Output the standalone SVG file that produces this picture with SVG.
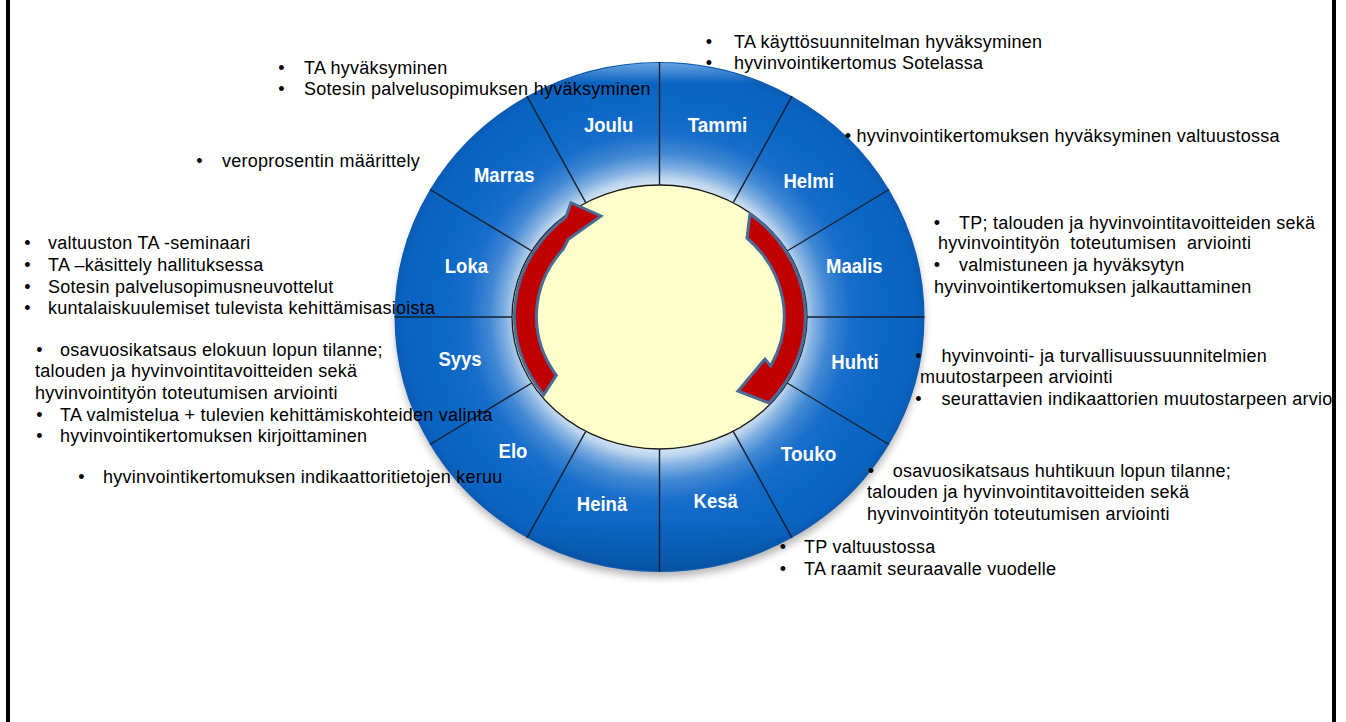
<svg xmlns="http://www.w3.org/2000/svg" width="1346" height="722" viewBox="0 0 1346 722">
<defs>
<style>
.t{font-family:"Liberation Sans",Arial,sans-serif;font-size:18px;letter-spacing:0.25px;fill:#000}
.b{font-family:"Liberation Sans",Arial,sans-serif;font-size:18px;fill:#000;text-anchor:middle}
.m{font-family:"Liberation Sans",Arial,sans-serif;font-size:20.5px;font-weight:bold;fill:#fff;text-anchor:middle}
.sec{fill:url(#ring)}
.div{stroke:#15202e;stroke-width:1.4;fill:none}
.arr{fill:#c00000;stroke:#4a6b95;stroke-width:3;stroke-linejoin:miter}
</style>
<radialGradient id="ring" gradientUnits="userSpaceOnUse" cx="0" cy="0" r="1" gradientTransform="matrix(265 0 0 255 659.5 317)">
<stop offset="0.5" stop-color="#e6eff9"/>
<stop offset="0.545" stop-color="#bcd5ee"/>
<stop offset="0.58" stop-color="#86b3e2"/>
<stop offset="0.64" stop-color="#4389d4"/>
<stop offset="0.72" stop-color="#196ecb"/>
<stop offset="0.82" stop-color="#0c67c5"/>
<stop offset="0.97" stop-color="#0a63c0"/>
<stop offset="1" stop-color="#0a5ab3"/>
</radialGradient>
<linearGradient id="hl" x1="0" y1="0" x2="0" y2="1">
<stop offset="0" stop-color="#7fb6ec" stop-opacity="0.8"/>
<stop offset="0.04" stop-color="#7fb6ec" stop-opacity="0"/>
<stop offset="0.9" stop-color="#04356e" stop-opacity="0"/>
<stop offset="1" stop-color="#04356e" stop-opacity="0.3"/>
</linearGradient>
<filter id="blur" x="-10%" y="-10%" width="120%" height="120%"><feGaussianBlur stdDeviation="4"/></filter>
</defs>
<rect width="1346" height="722" fill="#fff"/>
<rect x="6" y="0" width="4" height="722" fill="#000"/>
<rect x="1332" y="0" width="4" height="722" fill="#000"/>

<ellipse cx="660" cy="323" rx="264" ry="254" fill="#000" opacity="0.3" filter="url(#blur)"/>

<g id="month-tammi"><path class="sec" d="M659.5,62 A265 255 0 0 1 792,96.2 L733.25,202.7 A147.5 132 0 0 0 659.5,185 Z"/><text class="m" x="717.5" y="132" textLength="59.6" lengthAdjust="spacingAndGlyphs">Tammi</text></g>
<g id="month-helmi"><path class="sec" d="M792,96.2 A265 255 0 0 1 889,189.5 L787.2,251 A147.5 132 0 0 0 733.25,202.7 Z"/><text class="m" x="808.6" y="188" textLength="50.4" lengthAdjust="spacingAndGlyphs">Helmi</text></g>
<g id="month-maalis"><path class="sec" d="M889,189.5 A265 255 0 0 1 924.5,317 L807,317 A147.5 132 0 0 0 787.2,251 Z"/><text class="m" x="854.3" y="273" textLength="56.6" lengthAdjust="spacingAndGlyphs">Maalis</text></g>
<g id="month-huhti"><path class="sec" d="M924.5,317 A265 255 0 0 1 889,444.5 L787.2,383 A147.5 132 0 0 0 807,317 Z"/><text class="m" x="855" y="369" textLength="47.3" lengthAdjust="spacingAndGlyphs">Huhti</text></g>
<g id="month-touko"><path class="sec" d="M889,444.5 A265 255 0 0 1 792,537.8 L733.25,431.3 A147.5 132 0 0 0 787.2,383 Z"/><text class="m" x="808.6" y="460.5" textLength="55.5" lengthAdjust="spacingAndGlyphs">Touko</text></g>
<g id="month-kesa"><path class="sec" d="M792,537.8 A265 255 0 0 1 659.5,572 L659.5,449 A147.5 132 0 0 0 733.25,431.3 Z"/><text class="m" x="715.7" y="508" textLength="44.2" lengthAdjust="spacingAndGlyphs">Kesä</text></g>
<g id="month-heina"><path class="sec" d="M659.5,572 A265 255 0 0 1 527,537.8 L585.75,431.3 A147.5 132 0 0 0 659.5,449 Z"/><text class="m" x="602" y="510.5" textLength="50.4" lengthAdjust="spacingAndGlyphs">Heinä</text></g>
<g id="month-elo"><path class="sec" d="M527,537.8 A265 255 0 0 1 430,444.5 L531.8,383 A147.5 132 0 0 0 585.75,431.3 Z"/><text class="m" x="513" y="458" textLength="28.8" lengthAdjust="spacingAndGlyphs">Elo</text></g>
<g id="month-syys"><path class="sec" d="M430,444.5 A265 255 0 0 1 394.5,317 L512,317 A147.5 132 0 0 0 531.8,383 Z"/><text class="m" x="460" y="366" textLength="43.2" lengthAdjust="spacingAndGlyphs">Syys</text></g>
<g id="month-loka"><path class="sec" d="M394.5,317 A265 255 0 0 1 430,189.5 L531.8,251 A147.5 132 0 0 0 512,317 Z"/><text class="m" x="466.4" y="273" textLength="43.2" lengthAdjust="spacingAndGlyphs">Loka</text></g>
<g id="month-marras"><path class="sec" d="M430,189.5 A265 255 0 0 1 527,96.2 L585.75,202.7 A147.5 132 0 0 0 531.8,251 Z"/><text class="m" x="504.3" y="181.5" textLength="60.7" lengthAdjust="spacingAndGlyphs">Marras</text></g>
<g id="month-joulu"><path class="sec" d="M527,96.2 A265 255 0 0 1 659.5,62 L659.5,185 A147.5 132 0 0 0 585.75,202.7 Z"/><text class="m" x="608.6" y="132" textLength="49.3" lengthAdjust="spacingAndGlyphs">Joulu</text></g>

<ellipse cx="659.5" cy="317" rx="264" ry="254" fill="url(#hl)"/>

<g id="dividers" class="div">
<line x1="659.5" y1="62" x2="659.5" y2="185"/>
<line x1="792" y1="96.2" x2="733.25" y2="202.7"/>
<line x1="889" y1="189.5" x2="787.2" y2="251"/>
<line x1="924.5" y1="317" x2="807" y2="317"/>
<line x1="889" y1="444.5" x2="787.2" y2="383"/>
<line x1="792" y1="537.8" x2="733.25" y2="431.3"/>
<line x1="659.5" y1="572" x2="659.5" y2="449"/>
<line x1="527" y1="537.8" x2="585.75" y2="431.3"/>
<line x1="430" y1="444.5" x2="531.8" y2="383"/>
<line x1="394.5" y1="317" x2="512" y2="317"/>
<line x1="430" y1="189.5" x2="531.8" y2="251"/>
<line x1="527" y1="96.2" x2="585.75" y2="202.7"/>
</g>

<g id="center">
<ellipse cx="659.5" cy="317" rx="147.5" ry="132" fill="#ffffcc" stroke="#1a1a1a" stroke-width="1.3"/>
</g>

<g id="connectors">
<path class="arr" d="M543.7,394.7 A145 130 0 0 1 566,217 L571,202.7 L601,216 L568.3,239.3 L563.3,249 A123 108 0 0 0 556.3,375.3 Z"/>
<path class="arr" d="M750,214 A146.5 131 0 0 1 769,403 L738,391 L765,359 L770.6,366 A124.5 109.5 0 0 0 747,238 Z"/>
</g>

<g id="notes-joulu">
<text class="b" x="281.5" y="73.5">•</text><text class="t" x="304" y="73.5">TA hyväksyminen</text>
<text class="b" x="281.5" y="94.5">•</text><text class="t" x="304" y="94.5">Sotesin palvelusopimuksen hyväksyminen</text>
</g>
<g id="notes-marras">
<text class="b" x="199.5" y="166.5">•</text><text class="t" x="222" y="166.5">veroprosentin määrittely</text>
</g>
<g id="notes-loka">
<text class="b" x="27.5" y="249">•</text><text class="t" x="48" y="249">valtuuston TA -seminaari</text>
<text class="b" x="27.5" y="271">•</text><text class="t" x="48" y="271">TA –käsittely hallituksessa</text>
<text class="b" x="27.5" y="292.7">•</text><text class="t" x="48" y="292.7">Sotesin palvelusopimusneuvottelut</text>
<text class="b" x="27.5" y="314.3">•</text><text class="t" x="48" y="314.3">kuntalaiskuulemiset tulevista kehittämisasioista</text>
</g>
<g id="notes-syys">
<text class="b" x="39.5" y="356.3">•</text><text class="t" x="60" y="356.3">osavuosikatsaus elokuun lopun tilanne;</text>
<text class="t" x="35" y="377">talouden ja hyvinvointitavoitteiden sekä</text>
<text class="t" x="35" y="398.6">hyvinvointityön toteutumisen arviointi</text>
<text class="b" x="39.5" y="420.7">•</text><text class="t" x="60" y="420.7">TA valmistelua + tulevien kehittämiskohteiden valinta</text>
<text class="b" x="39.5" y="441.8">•</text><text class="t" x="60" y="441.8">hyvinvointikertomuksen kirjoittaminen</text>
</g>
<g id="notes-elo">
<text class="b" x="81.5" y="483">•</text><text class="t" x="103" y="483">hyvinvointikertomuksen indikaattoritietojen keruu</text>
</g>
<g id="notes-tammi">
<text class="b" x="709" y="47.7">•</text><text class="t" x="734" y="47.7">TA käyttösuunnitelman hyväksyminen</text>
<text class="b" x="709" y="69.3">•</text><text class="t" x="734" y="69.3">hyvinvointikertomus Sotelassa</text>
</g>
<g id="notes-helmi">
<text class="b" x="848" y="142">•</text><text class="t" x="856.6" y="142">hyvinvointikertomuksen hyväksyminen valtuustossa</text>
</g>
<g id="notes-maalis">
<text class="b" x="937" y="228.7">•</text><text class="t" x="959" y="228.7">TP; talouden ja hyvinvointitavoitteiden sekä</text>
<text class="t" x="938" y="249" xml:space="preserve">hyvinvointityön  toteutumisen  arviointi</text>
<text class="b" x="937" y="271">•</text><text class="t" x="959" y="271">valmistuneen ja hyväksytyn</text>
<text class="t" x="934" y="292.7">hyvinvointikertomuksen jalkauttaminen</text>
</g>
<g id="notes-huhti">
<text class="b" x="918.5" y="361.7">•</text><text class="t" x="941.6" y="361.7">hyvinvointi- ja turvallisuussuunnitelmien</text>
<text class="t" x="920" y="383">muutostarpeen arviointi</text>
<text class="b" x="918.5" y="404.5">•</text><text class="t" x="941.6" y="404.5">seurattavien indikaattorien muutostarpeen arvio</text>
</g>
<g id="notes-touko">
<text class="b" x="871" y="476.8">•</text><text class="t" x="892.7" y="476.8">osavuosikatsaus huhtikuun lopun tilanne;</text>
<text class="t" x="867" y="498">talouden ja hyvinvointitavoitteiden sekä</text>
<text class="t" x="867" y="519.7">hyvinvointityön toteutumisen arviointi</text>
</g>
<g id="notes-kesa">
<text class="b" x="783" y="552.8">•</text><text class="t" x="804" y="552.8">TP valtuustossa</text>
<text class="b" x="783" y="575">•</text><text class="t" x="804" y="575">TA raamit seuraavalle vuodelle</text>
</g>
</svg>
